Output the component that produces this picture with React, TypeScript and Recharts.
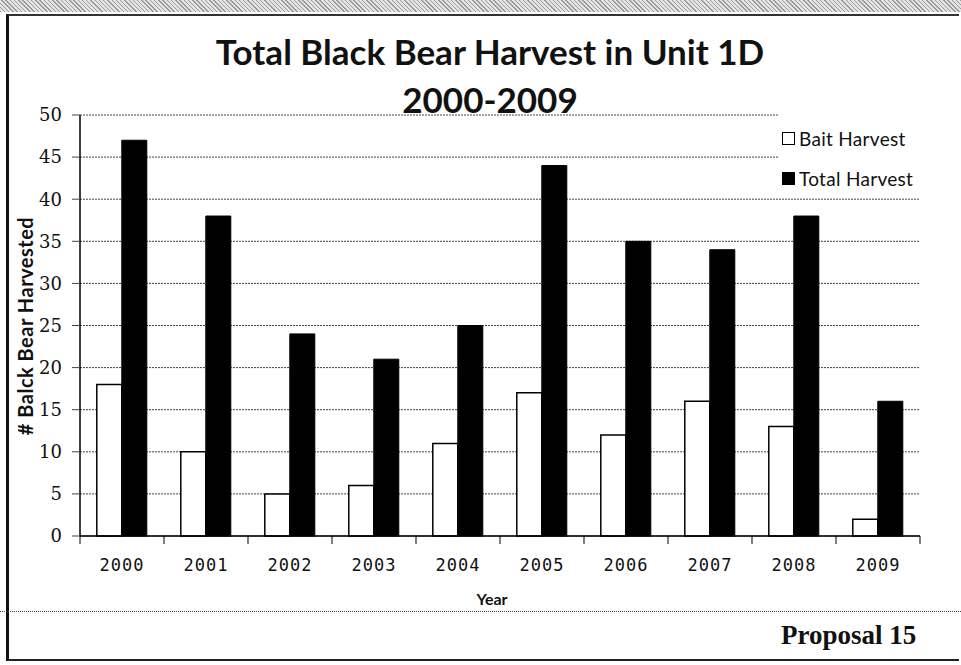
import { BarChart, Bar, XAxis, YAxis, CartesianGrid, Legend } from "recharts";

const years = ["2000", "2001", "2002", "2003", "2004", "2005", "2006", "2007", "2008", "2009"];
const baitHarvest = [18, 10, 5, 6, 11, 17, 12, 16, 13, 2];
const totalHarvest = [47, 38, 24, 21, 25, 44, 35, 34, 38, 16];
const yTicks = [0, 5, 10, 15, 20, 25, 30, 35, 40, 45, 50];

const data = years.map((year, i) => ({
  year,
  bait: baitHarvest[i],
  total: totalHarvest[i],
}));

const TITLE_FONT = "Lato, 'Open Sans', sans-serif";
const BAND = 84; // width of one category on the x axis

function YearTick(props: any) {
  const { x, y, payload, index } = props;
  return (
    <g>
      <line x1={x - BAND / 2} y1={y - 8} x2={x - BAND / 2} y2={y} stroke="#000" strokeWidth={1} />
      {index === years.length - 1 && (
        <line x1={x + BAND / 2} y1={y - 8} x2={x + BAND / 2} y2={y} stroke="#000" strokeWidth={1} />
      )}
      <text
        x={x}
        y={y + 27}
        textAnchor="middle"
        fontFamily="'DejaVu Sans Mono', monospace"
        fontSize={17}
        letterSpacing={1}
        fill="#111"
      >
        {payload.value}
      </text>
    </g>
  );
}

function HarvestLegend() {
  const items = [
    { label: "Bait Harvest", fill: "#fff" },
    { label: "Total Harvest", fill: "#000" },
  ];
  return (
    <div style={{ background: "#fff", padding: "18px 4px 8px 4px" }}>
      {items.map((it, i) => (
        <div
          key={it.label}
          style={{
            display: "flex",
            alignItems: "center",
            height: 20,
            marginTop: i === 0 ? 0 : 20,
            fontFamily: TITLE_FONT,
            fontSize: 19,
            letterSpacing: 0.3,
            color: "#111",
          }}
        >
          <span
            style={{
              display: "inline-block",
              width: 11,
              height: 11,
              border: "1.5px solid #000",
              background: it.fill,
              marginRight: 4,
            }}
          />
          {it.label}
        </div>
      ))}
    </div>
  );
}

export default function App() {
  return (
    <div
      style={{
        position: "absolute",
        left: 0,
        top: 0,
        width: 961,
        height: 665,
        background: "#fff",
        overflow: "hidden",
      }}
    >
      {/* scan texture strip along the top */}
      <div
        style={{
          position: "absolute",
          left: 0,
          top: 0,
          width: 961,
          height: 12,
          background:
            "repeating-linear-gradient(45deg, #9a9a9a 0 1px, #e4e4e4 1px 3px), #ccc",
        }}
      />
      {/* slide frame */}
      <div
        style={{
          position: "absolute",
          left: 6,
          top: 14,
          width: 950,
          height: 643,
          borderLeft: "3px solid #111",
          borderTop: "2px solid #333",
          borderBottom: "2px solid #222",
        }}
      />
      <div
        style={{
          position: "absolute",
          left: 0,
          top: 611,
          width: 961,
          borderTop: "1.5px dotted #444",
        }}
      />

      <div
        style={{
          position: "absolute",
          left: 0,
          top: 27,
          width: 980,
          textAlign: "center",
          fontFamily: TITLE_FONT,
          fontWeight: 700,
          fontSize: 35,
          lineHeight: "48px",
          color: "#111",
        }}
      >
        Total Black Bear Harvest in Unit 1D
        <br />
        2000-2009
      </div>

      <div style={{ position: "absolute", left: 0, top: 0 }}>
        <BarChart
          width={961}
          height={665}
          data={data}
          margin={{ top: 115, right: 41, bottom: 99, left: 30 }}
          barCategoryGap="20%"
          barGap={0}
        >
          <CartesianGrid
            vertical={false}
            stroke="#444"
            strokeDasharray="2 1"
            strokeWidth={1}
          />
          <XAxis
            dataKey="year"
            height={30}
            axisLine={{ stroke: "#000", strokeWidth: 1.5 }}
            tickLine={false}
            tick={<YearTick />}
            interval={0}
          />
          <YAxis
            width={50}
            domain={[0, 50]}
            ticks={yTicks}
            interval={0}
            axisLine={{ stroke: "#000", strokeWidth: 1.5 }}
            tickLine={{ stroke: "#444" }}
            tickSize={8}
            tickMargin={10}
            tick={{ fontFamily: "'DejaVu Serif', serif", fontSize: 18, fill: "#111" }}
          />
          <Legend
            layout="horizontal"
            verticalAlign="middle"
            align="center"
            content={<HarvestLegend />}
            wrapperStyle={{ position: "absolute", left: 778, top: 110, width: 150 }}
          />
          <Bar dataKey="bait" name="Bait Harvest" fill="#fff" stroke="#000" strokeWidth={1.5} isAnimationActive={false} />
          <Bar dataKey="total" name="Total Harvest" fill="#000" stroke="#000" strokeWidth={1} isAnimationActive={false} />
        </BarChart>
      </div>

      <div
        style={{
          position: "absolute",
          left: 25,
          top: 326,
          transform: "translate(-50%, -50%) rotate(-90deg)",
          whiteSpace: "nowrap",
          fontFamily: TITLE_FONT,
          fontWeight: 700,
          fontSize: 20,
          letterSpacing: 0.5,
          color: "#111",
        }}
      >
        # Balck Bear Harvested
      </div>

      <div
        style={{
          position: "absolute",
          left: 492,
          top: 598,
          transform: "translate(-50%, -50%)",
          fontFamily: TITLE_FONT,
          fontWeight: 700,
          fontSize: 16,
          color: "#111",
        }}
      >
        Year
      </div>

      <div
        style={{
          position: "absolute",
          left: 781,
          top: 620,
          fontFamily: "'Liberation Serif', serif",
          fontWeight: 700,
          fontSize: 27,
          color: "#111",
        }}
      >
        Proposal 15
      </div>
    </div>
  );
}
